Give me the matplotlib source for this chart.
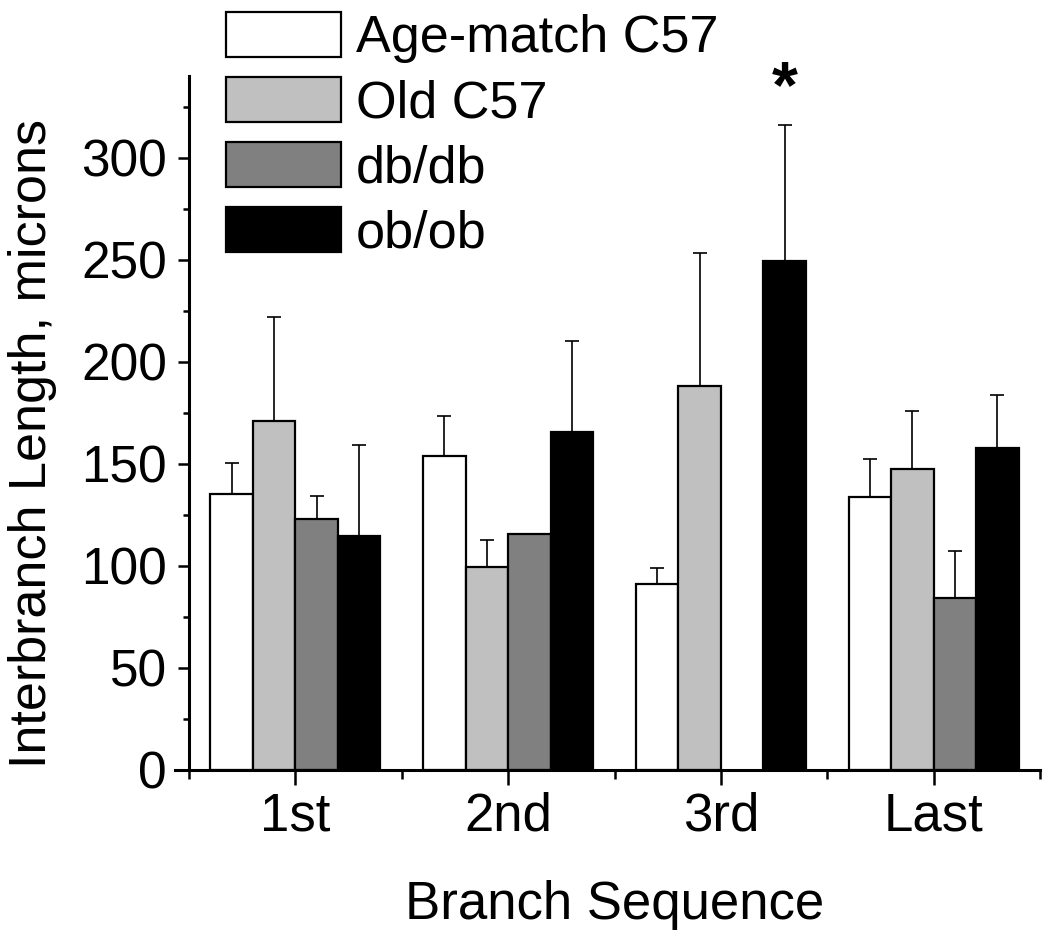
#!/usr/bin/env python3

"""Interbranch length per branch sequence, four mouse groups (bar chart with SEM)."""

import numpy as np
import matplotlib

matplotlib.use("Agg")
import matplotlib.pyplot as plt
from matplotlib.ticker import MultipleLocator

plt.rcParams["font.family"] = ["Liberation Sans", "DejaVu Sans"]

categories = ["1st", "2nd", "3rd", "Last"]
series_names = ["Age-match C57", "Old C57", "db/db", "ob/ob"]

age_match = [135.3, 153.8, 91.0, 133.7]
age_match_err = [15.2, 19.9, 7.9, 18.8]
old_c57 = [171.2, 99.4, 188.4, 147.3]
old_c57_err = [50.8, 13.3, 65.0, 28.7]
db_db = [122.9, 115.5, np.nan, 84.5]      # no 3rd-branch value for db/db
db_db_err = [11.4, np.nan, np.nan, 22.9]
ob_ob = [114.9, 165.8, 249.5, 158.0]
ob_ob_err = [44.4, 44.5, 66.6, 25.7]

fills = ["white", "#c0c0c0", "#808080", "black"]
star_group = 2
star_series = 3


def main() -> None:
    values = [age_match, old_c57, db_db, ob_ob]
    errors = [age_match_err, old_c57_err, db_db_err, ob_ob_err]

    fig = plt.figure(figsize=(10.5, 9.35), dpi=100)
    ax = fig.add_axes([0.18, 0.1765, 0.8105, 0.742])

    x = np.arange(len(categories))
    width = 0.2
    offsets = (np.arange(len(series_names)) - 1.5) * width

    for vals, errs, name, color, off in zip(values, errors, series_names, fills, offsets):
        vals = np.array(vals, dtype=float)
        errs = np.array(errs, dtype=float)
        ax.bar(x + off, vals, width, color=color, edgecolor="black",
               linewidth=1.6, label=name, zorder=2)
        ok = ~np.isnan(errs)
        ax.errorbar(x[ok] + off, vals[ok], yerr=[np.zeros(ok.sum()), errs[ok]],
                    fmt="none", ecolor="black", elinewidth=1.2, capsize=4.9,
                    capthick=1.2, zorder=1)

    # significance marker above the ob/ob 3rd-branch bar
    ax.text(x[star_group] + offsets[star_series], 325, "*", ha="center",
            va="baseline", fontsize=48, fontweight="bold", clip_on=False)

    ax.set_xlim(-0.5, 3.5)
    ax.set_ylim(0, 340)
    ax.set_xticks(x)
    ax.set_xticklabels(categories)
    ax.xaxis.set_minor_locator(MultipleLocator(1, offset=0.5))
    ax.yaxis.set_major_locator(MultipleLocator(50))
    ax.yaxis.set_minor_locator(MultipleLocator(25))

    for side in ("top", "right"):
        ax.spines[side].set_visible(False)
    for side in ("left", "bottom"):
        ax.spines[side].set_linewidth(2.2)
    ax.spines["bottom"].set_bounds(-0.565, 3.5)

    ax.tick_params(axis="x", which="major", direction="out", length=10.5,
                   width=1.8, labelsize=38, pad=5)
    ax.tick_params(axis="x", which="minor", direction="out", length=6.5, width=1.8)
    ax.tick_params(axis="y", which="major", direction="out", length=8,
                   width=1.8, labelsize=37, pad=8)
    ax.tick_params(axis="y", which="minor", direction="out", length=4, width=1.8)

    ax.set_xlabel("Branch Sequence", fontsize=38, labelpad=28)
    ax.set_ylabel("Interbranch Length, microns", fontsize=37.5, labelpad=16)
    ax.yaxis.set_label_coords(-0.155, 0.47)

    ax.legend(loc="upper left", bbox_to_anchor=(226 / 1050, 1 - 12 / 935),
              bbox_transform=fig.transFigure, frameon=False, fontsize=37.5,
              handlelength=2.2, handleheight=0.95, handletextpad=0.3,
              labelspacing=0.26, borderpad=0, borderaxespad=0)

    fig.savefig("out.png", dpi=100)
    plt.close(fig)


if __name__ == "__main__":
    main()
